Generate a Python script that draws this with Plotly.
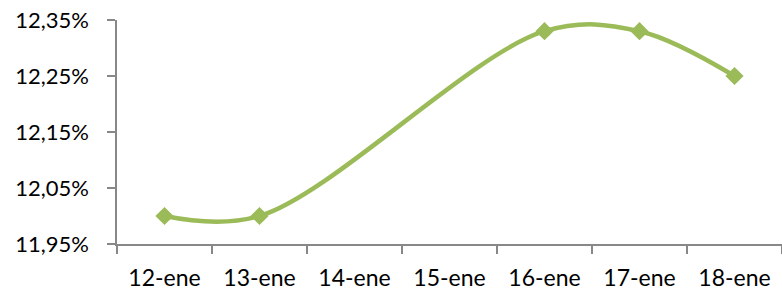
import plotly.graph_objects as go

categories = ["12-ene", "13-ene", "14-ene", "15-ene", "16-ene", "17-ene", "18-ene"]
values = [0.1200, 0.1200, None, None, 0.1233, 0.1233, 0.1225]
tick_vals = [0.1195, 0.1205, 0.1215, 0.1225, 0.1235]

green = "#9BBB59"
axis_col = "#888888"
font = "Lato, 'Open Sans', sans-serif"

fig = go.Figure()
fig.add_trace(go.Scatter(
    x=categories, y=values, mode="lines+markers", connectgaps=True,
    line=dict(color=green, width=4.5, shape="spline", smoothing=1.0),
    marker=dict(symbol="diamond", size=14, color=green),
    showlegend=False, cliponaxis=False, hoverinfo="skip",
))
fig.update_layout(
    width=782, height=293,
    margin=dict(l=117, r=0, t=20, b=49),
    paper_bgcolor="white", plot_bgcolor="white",
    separators=", ",
    font=dict(family=font, size=22, color="#000000"),
    xaxis=dict(type="category", range=[-0.5, 6.5], showline=True, linecolor=axis_col, linewidth=1.5,
               ticks="outside", tickson="boundaries", ticklen=8, tickcolor=axis_col, tickwidth=1.5,
               showgrid=False, zeroline=False, tickfont=dict(size=23), ticklabelstandoff=13,
               ticklabeloverflow="allow"),
    yaxis=dict(range=[0.1195, 0.1235], tickvals=tick_vals, tickformat=".2%", showline=True,
               linecolor=axis_col, linewidth=1.5, ticks="outside", ticklen=8, tickcolor=axis_col,
               tickwidth=1.5, showgrid=False, zeroline=False, tickfont=dict(size=22),
               ticklabelstandoff=14, ticklabeloverflow="allow"),
)
fig.write_html("out.html", config={"displayModeBar": False},
               post_script="document.body.style.margin='0px';")
